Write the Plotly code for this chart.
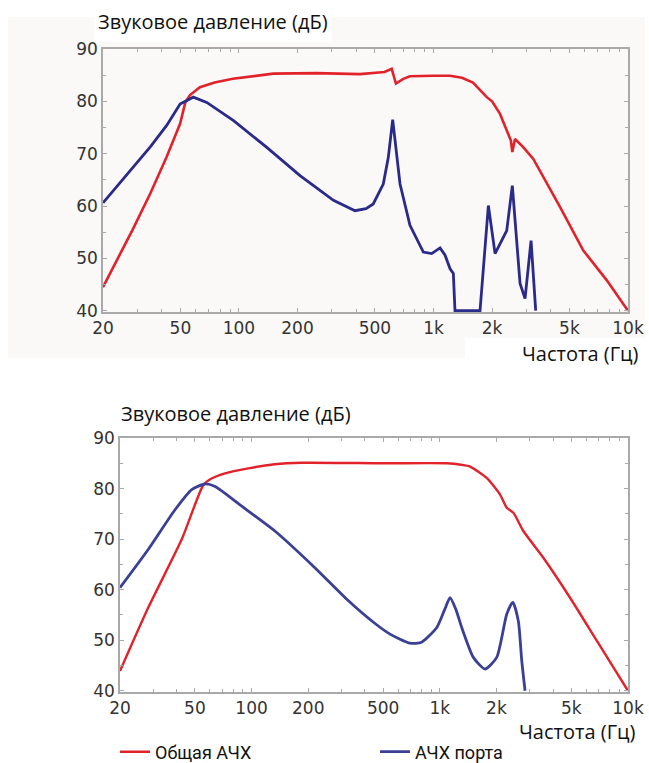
import math
import plotly.graph_objects as go

# Upper panel: total response (with port resonances) and port response
top_total_f = [20, 28.5, 35, 42.4, 49.8, 53, 56, 63, 75, 93, 150, 250, 419, 560, 610, 641,
               700, 757, 1000, 1217, 1400, 1596, 1879, 2000, 2198, 2426, 2500, 2543, 2625,
               2900, 3260, 4477, 5893, 7781, 10000]
top_total_db = [44.5, 55.6, 62.4, 69.3, 75.7, 79.8, 81.2, 82.7, 83.6, 84.3, 85.3, 85.4, 85.2,
                85.6, 86.2, 83.4, 84.3, 84.8, 84.9, 84.9, 84.5, 83.6, 80.8, 80.0, 77.6, 73.8,
                72.5, 70.3, 72.8, 71.2, 69.0, 59.8, 51.5, 45.8, 40.0]

top_port_f = [20, 28.6, 35, 42.5, 49.8, 58.2, 68.3, 93.8, 139, 206, 306, 395, 450, 490, 552,
              586, 617, 673, 757, 887, 979, 1081, 1147, 1217, 1265, 1290, 1735, 1915, 2073,
              2380, 2543, 2786, 2956, 3174, 3354]
top_port_db = [60.6, 67.4, 71.3, 75.4, 79.5, 80.8, 79.8, 76.3, 71.2, 65.8, 61.1, 59.1, 59.5,
               60.4, 64.2, 69.3, 76.5, 64.2, 56.3, 51.2, 50.9, 52.0, 50.6, 48.0, 47.1, 40.0,
               40.0, 60.1, 50.9, 55.3, 63.9, 45.2, 42.3, 53.4, 40.0]

# Lower panel: smoothed total response and port response
bot_total_f = [20, 28.3, 42.5, 55.4, 60, 72.3, 96, 133, 185, 500, 1089, 1300, 1449, 1775,
               2090, 2270, 2461, 2780, 3550, 4921, 6825, 10000]
bot_total_db = [43.9, 56.5, 69.9, 80.7, 81.8, 83.0, 84.0, 84.8, 85.1, 85.0, 85.0, 84.7, 84.35,
                82.1, 78.8, 76.2, 75.2, 71.6, 66.3, 58.4, 49.9, 40.0]

bot_port_f = [20, 28.3, 39.2, 48.1, 56.6, 64, 88.7, 133, 217.5, 327, 453, 544, 695, 801, 964,
              1060, 1134, 1220, 1308, 1508, 1739, 2007, 2270, 2443, 2614, 2725, 2838]
bot_port_db = [60.4, 68.0, 75.8, 79.8, 80.9, 80.4, 76.5, 71.6, 64.3, 57.8, 53.3, 51.2, 49.4,
               49.6, 52.5, 56.0, 58.4, 56.0, 52.5, 46.6, 44.3, 46.6, 55.2, 57.5, 53.8, 46.0, 40.0]

freq_ticks = [20, 50, 100, 200, 500, 1000, 2000, 5000, 10000]
freq_labels = ["20", "50", "100", "200", "500", "1k", "2k", "5k", "10k"]
db_ticks = [40, 50, 60, 70, 80, 90]

y_title = "Звуковое давление (дБ)"
x_title = "Частота (Гц)"
name_total = "Общая АЧХ"
name_port = "АЧХ порта"

RED = "#e2222b"
BLUE_TOP = "#2a2a8a"
BLUE_BOT = "#3a4096"
AXIS = "#a9a9a9"

W, H = 649, 763

minor_f = [m * d for d in (10, 100, 1000) for m in range(1, 10)
           if 20 < m * d < 10000 and m * d not in freq_ticks]


def px_x(p):
    return p / W


def px_y(p):
    return 1 - p / H


fig = go.Figure()
fig.add_trace(go.Scatter(x=top_total_f, y=top_total_db, mode="lines", xaxis="x", yaxis="y",
                         line=dict(color=RED, width=2.6), showlegend=False))
fig.add_trace(go.Scatter(x=top_port_f, y=top_port_db, mode="lines", xaxis="x", yaxis="y",
                         line=dict(color=BLUE_TOP, width=2.8), showlegend=False))
fig.add_trace(go.Scatter(x=bot_total_f, y=bot_total_db, mode="lines", xaxis="x2", yaxis="y2",
                         line=dict(color=RED, width=2.4, shape="spline", smoothing=0.6),
                         name=name_total))
fig.add_trace(go.Scatter(x=bot_port_f, y=bot_port_db, mode="lines", xaxis="x2", yaxis="y2",
                         line=dict(color=BLUE_BOT, width=2.8, shape="spline", smoothing=0.6),
                         name=name_port))

tick_font = dict(family="DejaVu Sans", size=17, color="#333333")


def xaxis_style(domain, anchor):
    return dict(type="log", domain=domain, anchor=anchor,
                range=[math.log10(20), math.log10(10000)],
                tickmode="array", tickvals=freq_ticks, ticktext=freq_labels,
                ticks="inside", ticklen=4, tickcolor=AXIS, tickwidth=1,
                minor=dict(tickmode="array", tickvals=minor_f, ticks="inside",
                           ticklen=3, tickcolor=AXIS, showgrid=False),
                showline=True, linecolor=AXIS, linewidth=1.5, mirror="allticks",
                showgrid=False, zeroline=False, tickfont=tick_font, fixedrange=True,
                automargin=False)


def yaxis_style(domain, anchor):
    return dict(domain=domain, anchor=anchor, range=[39.75, 90],
                tickmode="array", tickvals=db_ticks,
                ticks="inside", ticklen=4, tickcolor=AXIS, tickwidth=1,
                minor=dict(dtick=5, tick0=40, ticks="inside", ticklen=3,
                           tickcolor=AXIS, showgrid=False),
                showline=True, linecolor=AXIS, linewidth=1.5, mirror="allticks",
                showgrid=False, zeroline=False, tickfont=tick_font, fixedrange=True,
                automargin=False)


fig.update_layout(
    width=W, height=H,
    margin=dict(l=0, r=0, t=0, b=0, autoexpand=False),
    paper_bgcolor="white",
    plot_bgcolor="rgba(0,0,0,0)",
    xaxis=xaxis_style([px_x(103), px_x(628)], "y"),
    yaxis=yaxis_style([px_y(312), px_y(49)], "x"),
    xaxis2=xaxis_style([px_x(120), px_x(628)], "y2"),
    yaxis2=yaxis_style([px_y(692), px_y(438)], "x2"),
    legend=dict(orientation="h", x=px_x(115), y=px_y(752), yanchor="middle", xanchor="left",
                entrywidth=215, entrywidthmode="pixels", itemwidth=30,
                font=dict(family="Roboto", size=18, color="#111111"),
                bgcolor="rgba(0,0,0,0)", tracegroupgap=0),
    shapes=[
        dict(type="rect", xref="paper", yref="paper", layer="below",
             x0=px_x(8), x1=px_x(645), y0=px_y(358), y1=px_y(17),
             fillcolor="#faf9f7", line=dict(width=0)),
        dict(type="rect", xref="paper", yref="paper", layer="below",
             x0=px_x(94), x1=px_x(332), y0=px_y(42), y1=px_y(0),
             fillcolor="white", line=dict(width=0)),
        dict(type="rect", xref="paper", yref="paper", layer="below",
             x0=px_x(465), x1=px_x(649), y0=px_y(365), y1=px_y(338),
             fillcolor="white", line=dict(width=0)),
    ],
    annotations=[
        dict(text=y_title, xref="paper", yref="paper", x=px_x(96), y=px_y(22),
             xanchor="left", yanchor="middle", showarrow=False,
             font=dict(family="Open Sans", size=20, color="#111111")),
        dict(text=x_title, xref="paper", yref="paper", x=px_x(641), y=px_y(353),
             xanchor="right", yanchor="middle", showarrow=False,
             font=dict(family="Open Sans", size=20, color="#111111")),
        dict(text=y_title, xref="paper", yref="paper", x=px_x(119), y=px_y(413),
             xanchor="left", yanchor="middle", showarrow=False,
             font=dict(family="Open Sans", size=20, color="#111111")),
        dict(text=x_title, xref="paper", yref="paper", x=px_x(638), y=px_y(731),
             xanchor="right", yanchor="middle", showarrow=False,
             font=dict(family="Open Sans", size=20, color="#111111")),
    ],
)

fig.write_html("out.html")
